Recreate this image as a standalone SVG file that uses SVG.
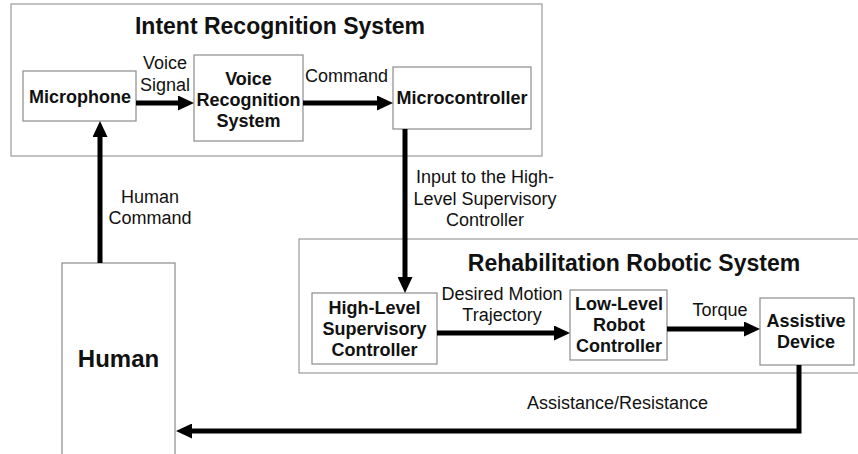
<svg xmlns="http://www.w3.org/2000/svg" width="858" height="454" viewBox="0 0 858 454">
  <style>
    text { font-family: "Liberation Sans", Arial, sans-serif; fill: #111; }
    .b { font-weight: bold; font-size: 18px; text-anchor: middle; }
    .r { font-size: 18px; text-anchor: middle; }
    .title { font-weight: bold; font-size: 23px; text-anchor: middle; }
    .group { fill: #fff; stroke: #9a9a9a; stroke-width: 1.2; }
    .box { fill: #fff; stroke: #8c8c8c; stroke-width: 1.2; }
    .wire { fill: none; stroke: #000; stroke-width: 5; stroke-linejoin: miter; }
  </style>
  <defs>
    <marker id="head" markerUnits="userSpaceOnUse" markerWidth="16" markerHeight="15" refX="6" refY="7.5" orient="auto">
      <path d="M0,0 L16,7.5 L0,15 z" fill="#000"/>
    </marker>
  </defs>

  <rect width="858" height="454" fill="#fff"/>

  <!-- subsystem frames -->
  <g id="intent-recognition-system">
    <rect class="group" x="11" y="4" width="531" height="152"/>
    <text class="title" x="280" y="34">Intent Recognition System</text>
  </g>
  <g id="rehabilitation-robotic-system">
    <rect class="group" x="299" y="239" width="570" height="134"/>
    <text class="title" x="634" y="271">Rehabilitation Robotic System</text>
  </g>

  <!-- blocks -->
  <g id="microphone">
    <rect class="box" x="23" y="71" width="113" height="50"/>
    <text class="b" x="80" y="103">Microphone</text>
  </g>
  <g id="voice-recognition">
    <rect class="box" x="194" y="55" width="109" height="86"/>
    <text class="b" x="248.5" y="85">Voice</text>
    <text class="b" x="248.5" y="106">Recognition</text>
    <text class="b" x="248.5" y="127">System</text>
  </g>
  <g id="microcontroller">
    <rect class="box" x="393" y="67" width="138" height="62"/>
    <text class="b" x="462" y="104">Microcontroller</text>
  </g>
  <g id="high-level-controller">
    <rect class="box" x="312" y="293" width="125" height="71"/>
    <text class="b" x="374.5" y="314">High-Level</text>
    <text class="b" x="374.5" y="335">Supervisory</text>
    <text class="b" x="374.5" y="356">Controller</text>
  </g>
  <g id="low-level-controller">
    <rect class="box" x="570" y="290" width="97" height="70"/>
    <text class="b" x="619" y="310">Low-Level</text>
    <text class="b" x="619" y="331">Robot</text>
    <text class="b" x="619" y="352">Controller</text>
  </g>
  <g id="assistive-device">
    <rect class="box" x="760" y="298" width="94" height="67"/>
    <text class="b" x="806" y="327">Assistive</text>
    <text class="b" x="806" y="348">Device</text>
  </g>
  <g id="human">
    <rect class="box" x="62" y="263" width="113" height="200"/>
    <text x="118.5" y="367" style="font-weight:bold;font-size:24px;text-anchor:middle">Human</text>
  </g>

  <!-- signal flow -->
  <g id="connectors">
    <line class="wire" x1="100" y1="263" x2="100" y2="131" marker-end="url(#head)"/>
    <line class="wire" x1="136" y1="103" x2="184" y2="103" marker-end="url(#head)"/>
    <line class="wire" x1="303" y1="103" x2="383" y2="103" marker-end="url(#head)"/>
    <line class="wire" x1="405" y1="129" x2="405" y2="283" marker-end="url(#head)"/>
    <line class="wire" x1="437" y1="333" x2="560" y2="333" marker-end="url(#head)"/>
    <line class="wire" x1="667" y1="329" x2="750" y2="329" marker-end="url(#head)"/>
    <path class="wire" d="M799,365 V431 H186" marker-end="url(#head)"/>

    <text class="r" x="165" y="69">Voice</text>
    <text class="r" x="165" y="91">Signal</text>
    <text class="r" x="346.5" y="82">Command</text>
    <text class="r" x="150" y="203">Human</text>
    <text class="r" x="150" y="224">Command</text>
    <text class="r" x="485" y="183">Input to the High-</text>
    <text class="r" x="485" y="205">Level Supervisory</text>
    <text class="r" x="485" y="226">Controller</text>
    <text class="r" x="502" y="300">Desired Motion</text>
    <text class="r" x="502" y="321">Trajectory</text>
    <text class="r" x="720" y="316">Torque</text>
    <text class="r" x="617.5" y="409">Assistance/Resistance</text>
  </g>
</svg>
